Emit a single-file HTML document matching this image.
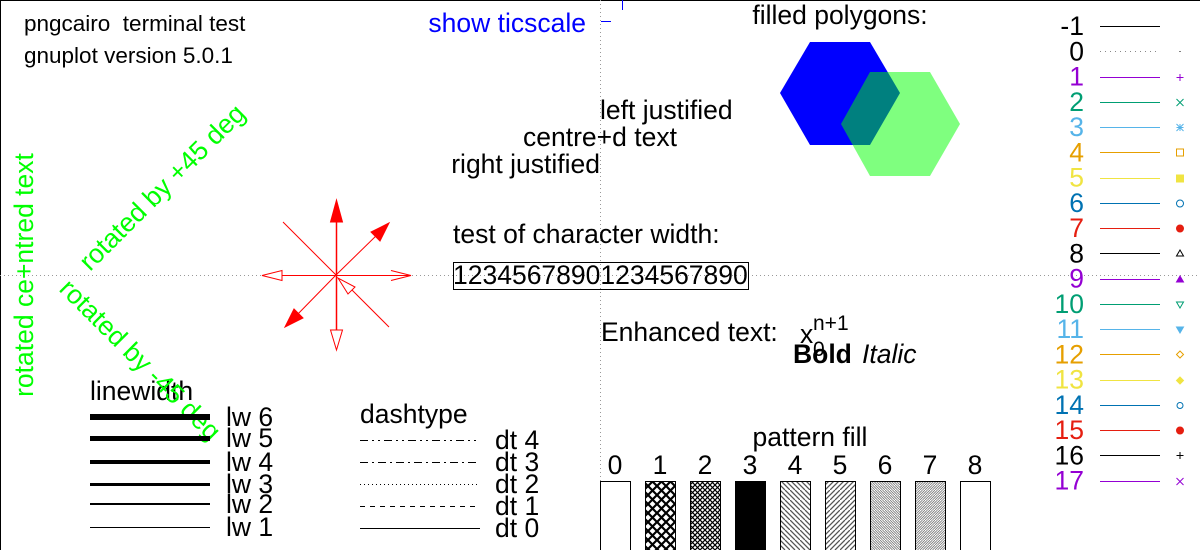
<!DOCTYPE html>
<html><head><meta charset="utf-8"><style>
html,body{margin:0;padding:0;background:#fff;}
svg{display:block;font-family:"Liberation Sans",sans-serif;}
</style></head><body>
<svg id="c" width="1200" height="550" viewBox="0 0 1200 550" xmlns="http://www.w3.org/2000/svg">
<defs>
<pattern id="p1" width="9" height="9" patternUnits="userSpaceOnUse"><rect width="9" height="9" fill="#fff"/><path d="M0 0L9 9M9 0L0 9" stroke="#000" stroke-width="2.2"/></pattern>
<pattern id="p2" width="5" height="5" patternUnits="userSpaceOnUse"><rect width="5" height="5" fill="#fff"/><path d="M0 0L5 5M5 0L0 5" stroke="#000" stroke-width="1.2"/></pattern>
<pattern id="p4" width="10" height="10" patternUnits="userSpaceOnUse"><path d="M-5 0L5 10M0 0L10 10M5 0L15 10" stroke="#555" stroke-width="1.3" fill="none"/></pattern>
<pattern id="p5" width="10" height="10" patternUnits="userSpaceOnUse"><path d="M15 0L5 10M10 0L0 10M5 0L-5 10" stroke="#555" stroke-width="1.3" fill="none"/></pattern>
<pattern id="p6" width="5" height="5" patternUnits="userSpaceOnUse"><path d="M-2.5 0L2.5 5M0 0L5 5M2.5 0L7.5 5" stroke="#777" stroke-width="0.8" fill="none"/></pattern>
<pattern id="p7" width="5" height="5" patternUnits="userSpaceOnUse"><path d="M7.5 0L2.5 5M5 0L0 5M2.5 0L-2.5 5" stroke="#777" stroke-width="0.8" fill="none"/></pattern>
</defs>
<rect x="0.5" y="0.5" width="1200" height="560" fill="none" stroke="#000" stroke-width="1"/>
<line x1="600.5" y1="0" x2="600.5" y2="550" stroke="#999" stroke-dasharray="1,3"/>
<line x1="0" y1="275.5" x2="1200" y2="275.5" stroke="#999" stroke-dasharray="1,3"/>

<g font-size="26.5" fill="#000">
<text x="24" y="31" font-size="22.5" xml:space="preserve">pngcairo  terminal test</text>
<text x="24" y="63" font-size="22.5">gnuplot version 5.0.1</text>
<text x="586" y="32" text-anchor="end" fill="#0000ff">show ticscale</text>
<text x="600" y="119">left justified</text>
<text x="600" y="146" text-anchor="middle">centre+d text</text>
<text x="600" y="173" text-anchor="end">right justified</text>
<text x="453" y="243">test of character width:</text>
<text x="453" y="284">12345678901234567890</text>
<text x="840" y="24" text-anchor="middle">filled polygons:</text>
<text x="601" y="341">Enhanced text:</text>
<text x="800" y="343">x</text>
<text x="813" y="356" font-size="21">0</text>
<text x="813" y="330" font-size="21">n+1</text>
<text x="793" y="363" font-weight="bold">Bold</text>
<text x="862" y="363" font-style="italic">Italic</text>
<text x="90" y="400">linewidth</text>
<text x="360" y="423">dashtype</text>
<text x="810" y="446" text-anchor="middle">pattern fill</text>
</g>
<rect x="453.5" y="262.5" width="295" height="27" fill="none" stroke="#000"/>
<line x1="622.5" y1="0" x2="622.5" y2="10" stroke="#0000ff"/>
<line x1="601" y1="21.5" x2="611" y2="21.5" stroke="#0000ff"/>

<g font-size="26.5" fill="#00ff00">
<text transform="translate(33,275) rotate(-90)" text-anchor="middle">rotated ce+ntred text</text>
<text transform="translate(90,272) rotate(-45)">rotated by +45 deg</text>
<text transform="translate(58,290) rotate(45)">rotated by -45 deg</text>
</g>

<g>
<polygon points="780,93 810,42 870,42 900,93 870,145 810,145" fill="#0000ff"/>
<polygon points="841,124 870,72 930,72 960,124 930,176 870,176" fill="#00ff00" fill-opacity="0.5"/>
</g>

<g stroke="#ff0000" fill="#ff0000" stroke-width="1">
<line x1="336.5" y1="275" x2="336.5" y2="215" stroke-width="1.5"/>
<polygon points="336.5,200 330.5,222 342.5,222"/>
<line x1="336" y1="275" x2="380" y2="232"/>
<polygon points="389,223 371,232 380,241"/>
<line x1="336" y1="275" x2="294" y2="318"/>
<polygon points="285,327 294,309 303,318"/>
<line x1="283" y1="222" x2="336" y2="275"/>
<line x1="282" y1="275.5" x2="411" y2="275.5"/>
<polygon points="262,275.5 282,270.5 282,280.5" fill="#fff"/>
<polyline points="391,270.5 411,275.5 391,280.5" fill="none"/>
<line x1="336.5" y1="275" x2="336.5" y2="330" stroke-width="1.5"/>
<polygon points="336.5,350 330.5,330 342.5,330" fill="#fff"/>
<line x1="389" y1="327" x2="352" y2="290"/>
<polygon points="338,278 348,294 355,287" fill="#fff"/>
</g>

<g id="lw"></g>
<g id="dt"></g>
<g id="pf"></g>
<g id="lg"></g>
</svg>
<script>
const NS="http://www.w3.org/2000/svg";
const lwValues=[6,5,4,3,2,1];
const lwRowY=[417,438,462,484,504,527];
const dtValues=[4,3,2,1,0];
const dtDash=["8,4,2,4,2,4","8,4,2,4","1,3","5,5","none"];
const dtRowY=[440,462,484,506,528];
const patternIds=[0,1,2,3,4,5,6,7,8];
const patternFills=["#fff","url(#p1)","url(#p2)","#000","url(#p4)","url(#p5)","url(#p6)","url(#p7)","#fff"];
const ltLabels=["-1","0","1","2","3","4","5","6","7","8","9","10","11","12","13","14","15","16","17"];
const ltColors=["#000","#000","#9400d3","#009e73","#56b4e9","#e69f00","#f0e442","#0072b2","#e51e10","#000","#9400d3","#009e73","#56b4e9","#e69f00","#f0e442","#0072b2","#e51e10","#000","#9400d3"];
const ltMarkers=["","dot","plus","cross","star","box","fbox","circ","fcirc","tri","ftri","itri","fitri","diam","fdiam","pent","fpent","plus","cross"];

function mk(tag,attrs,parent){const e=document.createElementNS(NS,tag);for(const k in attrs)e.setAttribute(k,attrs[k]);parent.appendChild(e);return e;}

const lwG=document.getElementById('lw');
lwValues.forEach((v,i)=>{
  const y=lwRowY[i]+(v%2?0.5:0);
  const l=mk('line',{x1:90,x2:210,y1:y,y2:y,stroke:'#000','stroke-width':v},lwG);
  
  
  const t=mk('text',{x:226,y:lwRowY[i]+9,'font-size':26.5},lwG);t.textContent='lw '+v;
  
  
});
const dtG=document.getElementById('dt');
dtValues.forEach((v,i)=>{
  const y=dtRowY[i]+0.5;
  const a={x1:360,x2:480,y1:y,y2:y,stroke:'#000','stroke-width':1};
  if(dtDash[i]!=='none')a['stroke-dasharray']=dtDash[i];
  const l=mk('line',a,dtG);
  
  
  const t=mk('text',{x:495,y:dtRowY[i]+9,'font-size':26.5},dtG);t.textContent='dt '+v;
  
  
});
const pfG=document.getElementById('pf');
patternIds.forEach((p,i)=>{
  const x=600+i*45;
  const r=mk('rect',{x:x+0.5,y:481.5,width:30,height:80,fill:patternFills[i],stroke:'#000'},pfG);
  
  
  const t=mk('text',{x:x+15,y:474,'font-size':26.5,'text-anchor':'middle'},pfG);t.textContent=p;
  
  
});
const lgG=document.getElementById('lg');
function marker(type,x,y,c){
  const s=3.5;const g=mk('g',{stroke:c,fill:'none','stroke-width':1},lgG);
  switch(type){
    case 'dot':mk('rect',{x:x-0.5,y:y-0.5,width:1,height:1,fill:c,stroke:'none'},g);break;
    case 'plus':mk('path',{d:`M${x-s} ${y}H${x+s}M${x} ${y-s}V${y+s}`},g);break;
    case 'cross':mk('path',{d:`M${x-s} ${y-s}L${x+s} ${y+s}M${x+s} ${y-s}L${x-s} ${y+s}`},g);break;
    case 'star':mk('path',{d:`M${x-s} ${y}H${x+s}M${x} ${y-s}V${y+s}M${x-s} ${y-s}L${x+s} ${y+s}M${x+s} ${y-s}L${x-s} ${y+s}`},g);break;
    case 'box':mk('rect',{x:x-s,y:y-s,width:2*s,height:2*s},g);break;
    case 'fbox':mk('rect',{x:x-s,y:y-s,width:2*s,height:2*s,fill:c},g);break;
    case 'circ':mk('circle',{cx:x,cy:y,r:s},g);break;
    case 'fcirc':mk('circle',{cx:x,cy:y,r:s,fill:c},g);break;
    case 'tri':mk('polygon',{points:`${x},${y-s} ${x+s},${y+s*0.7} ${x-s},${y+s*0.7}`},g);break;
    case 'ftri':mk('polygon',{points:`${x},${y-s} ${x+s},${y+s*0.7} ${x-s},${y+s*0.7}`,fill:c},g);break;
    case 'itri':mk('polygon',{points:`${x},${y+s} ${x+s},${y-s*0.7} ${x-s},${y-s*0.7}`},g);break;
    case 'fitri':mk('polygon',{points:`${x},${y+s} ${x+s},${y-s*0.7} ${x-s},${y-s*0.7}`,fill:c},g);break;
    case 'diam':mk('polygon',{points:`${x},${y-s} ${x+s},${y} ${x},${y+s} ${x-s},${y}`},g);break;
    case 'fdiam':mk('polygon',{points:`${x},${y-s} ${x+s},${y} ${x},${y+s} ${x-s},${y}`,fill:c},g);break;
    case 'pent':mk('circle',{cx:x,cy:y,r:3},g);break;
    case 'fpent':mk('circle',{cx:x,cy:y,r:3.5,fill:c},g);break;
  }
  
  
}
ltLabels.forEach((lab,i)=>{
  const y=26+i*25.25;const c=ltColors[i];
  const t=mk('text',{x:1084,y:y+9,'font-size':26.5,'text-anchor':'end',fill:c},lgG);t.textContent=lab;
  
  
  const a={x1:1100,x2:1160,y1:Math.round(y)+0.5,y2:Math.round(y)+0.5,stroke:c,'stroke-width':1};
  if(lab==='0'){a.stroke='#888';a['stroke-dasharray']='1,4';}
  const l=mk('line',a,lgG);
  
  
  marker(ltMarkers[i],1180,Math.round(y)+0.5,c);
});
</script>
</body></html>
